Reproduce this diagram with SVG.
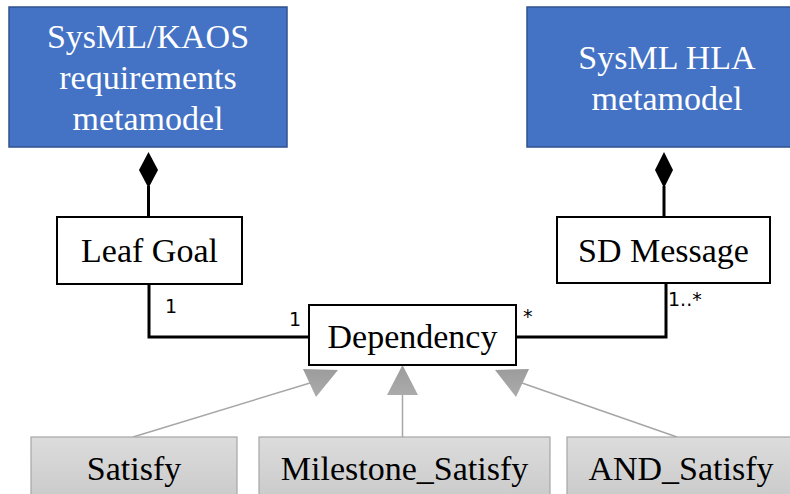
<svg xmlns="http://www.w3.org/2000/svg" width="790" height="494" viewBox="0 0 790 494">
<style>
.blue{fill:#4472C4;stroke:#2F528F;stroke-width:1.5}
.wbox{fill:#FFFFFF;stroke:#000000;stroke-width:2}
.gbox{fill:url(#gg);stroke:#A6A6A6;stroke-width:1.2}
.t{font-family:"Liberation Serif","Times New Roman",serif;font-size:34px;text-anchor:middle}
.tw{fill:#FFFFFF}
.tb{fill:#000000}
.m{font-family:"DejaVu Sans",sans-serif;font-size:19px;fill:#000000}
.conn{fill:none;stroke:#000000;stroke-width:3}
.gen{fill:none;stroke:#A6A6A6;stroke-width:1.5}
.tri{fill:url(#tg);stroke:none}
.dia{fill:#000000}
</style>
<defs>
<linearGradient id="gg" x1="0" y1="0" x2="0" y2="1">
<stop offset="0" stop-color="#DCDCDC"/>
<stop offset="1" stop-color="#C8C8C8"/>
</linearGradient>
<linearGradient id="tg" x1="0" y1="0" x2="0" y2="1">
<stop offset="0" stop-color="#9C9C9C"/>
<stop offset="1" stop-color="#ABABAB"/>
</linearGradient>
</defs>
<rect width="790" height="494" fill="#FFFFFF"/>

<g id="connectors">
<line class="conn" x1="148.5" y1="186" x2="148.5" y2="217"/>
<polygon class="dia" points="148.5,152 158,170 148.5,188 139,170"/>
<line class="conn" x1="664" y1="186" x2="664" y2="217"/>
<polygon class="dia" points="664,152 673,170 664,188 655,170"/>
<polyline class="conn" points="149,284 149,337 309,337"/>
<polyline class="conn" points="516,337 666,337 666,283"/>
<text class="m" x="165" y="313">1</text>
<text class="m" x="289" y="326">1</text>
<text class="m" x="523" y="323">*</text>
<text class="m" x="668" y="306">1..*</text>
<line class="gen" x1="133" y1="437" x2="310" y2="383"/>
<polygon class="tri" points="303,369 316,397 338,370"/>
<line class="gen" x1="402.5" y1="437" x2="402.5" y2="395"/>
<polygon class="tri" points="387,395 418,395 402.5,365"/>
<line class="gen" x1="677" y1="437" x2="522" y2="383"/>
<polygon class="tri" points="529,369 516,397 495,370"/>
</g>

<g id="node-kaos">
<rect class="blue" x="9" y="7" width="278" height="140"/>
<text class="t tw" x="148" y="48">SysML/KAOS</text>
<text class="t tw" x="148" y="89">requirements</text>
<text class="t tw" x="148" y="130">metamodel</text>
</g>

<g id="node-hla">
<rect class="blue" x="527" y="7" width="280" height="140"/>
<text class="t tw" x="667" y="69">SysML HLA</text>
<text class="t tw" x="667" y="110">metamodel</text>
</g>

<g id="node-leafgoal">
<rect class="wbox" x="57" y="217" width="185" height="67"/>
<text class="t tb" x="149.5" y="262">Leaf Goal</text>
</g>

<g id="node-sdmessage">
<rect class="wbox" x="557" y="217" width="213" height="66"/>
<text class="t tb" x="663.5" y="262">SD Message</text>
</g>

<g id="node-dependency">
<rect class="wbox" x="309" y="305" width="207" height="60"/>
<text class="t tb" x="412.5" y="348">Dependency</text>
</g>

<g id="node-satisfy">
<rect class="gbox" x="31" y="437" width="206" height="70"/>
<text class="t tb" x="134" y="480">Satisfy</text>
</g>

<g id="node-milestone">
<rect class="gbox" x="259" y="437" width="291" height="70"/>
<text class="t tb" x="404.5" y="480">Milestone_Satisfy</text>
</g>

<g id="node-and">
<rect class="gbox" x="567" y="437" width="240" height="70"/>
<text class="t tb" x="681" y="480">AND_Satisfy</text>
</g>
</svg>
